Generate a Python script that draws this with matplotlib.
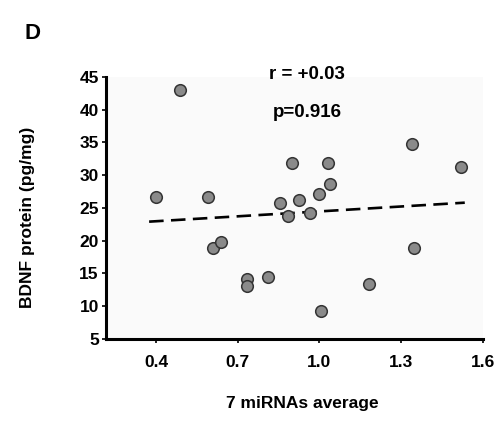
import matplotlib
matplotlib.use("Agg")
import matplotlib.pyplot as plt

# scatter values
mirna_avg = [0.49, 0.40, 0.59, 0.61, 0.64, 0.735, 0.735, 0.81, 0.855, 0.885, 0.90,
             0.925, 0.965, 1.00, 1.005, 1.03, 1.04, 1.18, 1.34, 1.345, 1.52]
bdnf = [43.0, 26.6, 26.6, 18.8, 19.8, 14.2, 13.1, 14.4, 25.8, 23.7, 31.9,
        26.2, 24.2, 27.1, 9.3, 31.9, 28.7, 13.3, 34.8, 18.8, 31.2]

# dashed trend line end points
fit_x = [0.375, 1.533]
fit_y = [22.9, 25.8]

xticks = [0.4, 0.7, 1.0, 1.3, 1.6]
yticks = [5, 10, 15, 20, 25, 30, 35, 40, 45]

plt.rcParams["font.family"] = ["Liberation Sans", "DejaVu Sans"]

fig = plt.figure(figsize=(4.99, 4.23), dpi=100)
ax = fig.add_axes([0.212, 0.199, 0.756, 0.619])
ax.set_facecolor("#fafafa")

ax.plot(fit_x, fit_y, ls=(0, (5.5, 2.8)), color="black", lw=1.9, zorder=2)
ax.scatter(mirna_avg, bdnf, s=70, facecolor="#8a8a8a", edgecolor="#333333",
           linewidth=1.1, zorder=3)

ax.set_xlim(0.216, 1.6)
ax.set_ylim(5, 45)
ax.set_xticks(xticks)
ax.set_xticklabels([f"{v:.1f}" for v in xticks])
ax.set_yticks(yticks)

for s in ("top", "right"):
    ax.spines[s].set_visible(False)
for s in ("left", "bottom"):
    ax.spines[s].set_linewidth(2.2)

ax.tick_params(axis="both", direction="out", length=3, width=1.2, labelsize=12.5, pad=2)
ax.tick_params(axis="x", pad=9)
for lab in ax.get_xticklabels() + ax.get_yticklabels():
    lab.set_fontweight("bold")

ax.text(0.533, 1.008, "r = +0.03", transform=ax.transAxes, ha="center", va="center",
        fontsize=13.5, fontweight="bold")
ax.text(0.533, 0.863, "p=0.916", transform=ax.transAxes, ha="center", va="center",
        fontsize=13.5, fontweight="bold")

fig.text(0.605, 0.047, "7 miRNAs average", ha="center", va="center",
         fontsize=12.5, fontweight="bold")
fig.text(0.056, 0.485, "BDNF protein (pg/mg)", ha="center", va="center",
         rotation=90, fontsize=12.5, fontweight="bold")
fig.text(0.05, 0.92, "D", ha="left", va="center", fontsize=16, fontweight="bold")

fig.savefig("out.png", dpi=100, facecolor="white")
